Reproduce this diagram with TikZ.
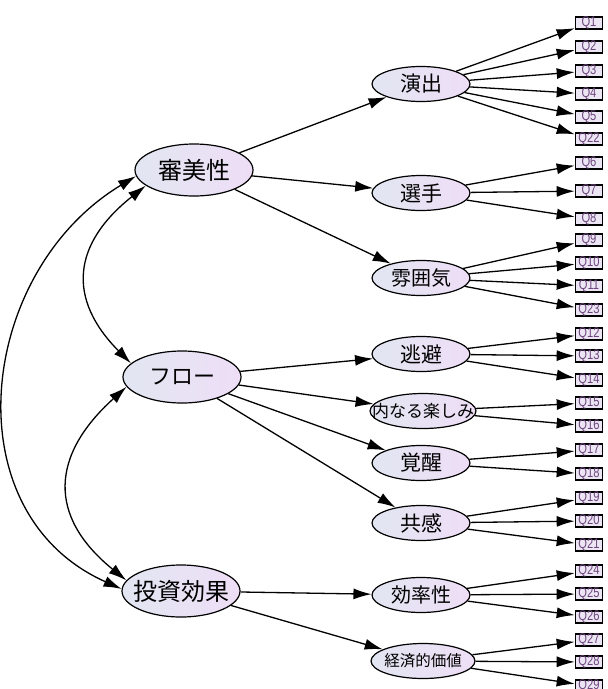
\documentclass[tikz,border=0pt]{standalone}
\usepackage{fontspec}
\newfontfamily\jp{Noto Sans CJK JP}
\newfontfamily\qf[FakeStretch=0.8]{Liberation Sans}
\usetikzlibrary{shapes.geometric,arrows.meta}
\definecolor{lavL}{RGB}{226,230,242}
\definecolor{lavR}{RGB}{238,222,246}
\definecolor{qfill}{RGB}{236,230,244}
\definecolor{qtext}{RGB}{110,70,125}
\newcommand\fsz[1]{\fontsize{#1}{#1}\selectfont}
\begin{document}
\begin{tikzpicture}[x=1pt,y=-1pt,
 big/.style={ellipse,draw,line width=1.2pt,minimum width=118pt,minimum height=52pt,inner sep=0pt,left color=lavL,right color=lavR,font=\jp\fsz{24}},
 mid/.style={ellipse,draw,line width=1.2pt,minimum width=98pt,minimum height=35pt,inner sep=0pt,left color=lavL,right color=lavR,font=\jp\fsz{20}},
 qbox/.style={rectangle,draw,line width=1.6pt,minimum width=27pt,minimum height=12pt,inner sep=0pt,fill=qfill,text=qtext,font=\qf\fsz{14}},
 arr/.style={-{Latex[length=18pt,width=11pt]},line width=1.3pt},
 dbl/.style={{Latex[length=18pt,width=11pt]}-{Latex[length=18pt,width=11pt]},line width=1.3pt}]
\useasboundingbox[fill=white] (0,0) rectangle (608,689);
% top-level factors
\node[big] (A) at (194,170) {\makebox[0pt]{審美性}};
\node[big,font=\jp\fsz{22}] (F) at (182,377) {\makebox[0pt]{フロー}};
\node[big] (I) at (181,591) {\makebox[0pt]{投資効果}};
% second-level factors
\node[mid,font=\jp\fsz{21}] (e1) at (421,84) {\makebox[0pt]{演出}};
\node[mid,font=\jp\fsz{21}] (e2) at (421,193) {\makebox[0pt]{選手}};
\node[mid] (e3) at (421,278) {\makebox[0pt]{雰囲気}};
\node[mid,font=\jp\fsz{21}] (e4) at (421,354) {\makebox[0pt]{逃避}};
\node[mid,minimum width=106pt,font=\jp\fsz{17}] (e5) at (423,411) {\makebox[0pt]{内なる楽しみ}};
\node[mid,font=\jp\fsz{21}] (e6) at (421,463) {\makebox[0pt]{覚醒}};
\node[mid,font=\jp\fsz{21}] (e7) at (421,523) {\makebox[0pt]{共感}};
\node[mid] (e8) at (421,595) {\makebox[0pt]{効率性}};
\node[mid,minimum width=104pt,font=\jp\fsz{15.5}] (e9) at (423,661) {\makebox[0pt]{経済的価値}};
% observed items
\foreach \q/\y in {1/23,2/47,3/71,4/94,5/117,22/139,6/163,7/191,8/219,9/240,10/263,11/286,23/310,12/334,13/356,14/380,15/403,16/426,17/450,18/474,19/498,20/521,21/545,24/571,25/594,26/617,27/640,28/662,29/686}
  \node[qbox] (q\q) at (589,\y) {Q\q};
% paths from top-level to second-level
\foreach \s/\t in {A/e1,A/e2,A/e3,F/e4,F/e5,F/e6,F/e7,I/e8,I/e9}
  \draw[arr] (\s) -- (\t);
% paths from second-level to items
\foreach \s/\t in {e1/1,e1/2,e1/3,e1/4,e1/5,e1/22,e2/6,e2/7,e2/8,e3/9,e3/10,e3/11,e3/23,e4/12,e4/13,e4/14,e5/15,e5/16,e6/17,e6/18,e7/19,e7/20,e7/21,e8/24,e8/25,e8/26,e9/27,e9/28,e9/29}
  \draw[arr] (\s) -- (q\t);
% covariances
\draw[dbl] (A.186) .. controls (-23,272) and (-49,513) .. (I.178);
\draw[dbl] (A.198) .. controls (72,244) and (67,299) .. (F.165);
\draw[dbl] (F.190) .. controls (51,455) and (47,516) .. (I.169);
\end{tikzpicture}
\end{document}
